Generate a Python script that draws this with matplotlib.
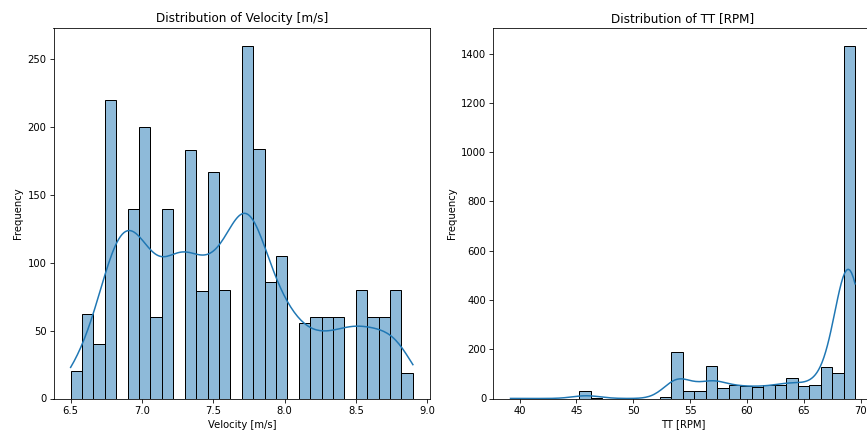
import matplotlib
matplotlib.use("Agg")
import matplotlib.pyplot as plt
import numpy as np
import pandas as pd
import seaborn as sns

# velocity: recorded values (0.1 m/s steps) and how often each occurs
vel_values = [6.5, 6.6, 6.7, 6.8, 6.9, 7.0, 7.1, 7.2, 7.3, 7.4, 7.5, 7.6, 7.7,
              7.8, 7.9, 8.0, 8.1, 8.2, 8.3, 8.4, 8.5, 8.6, 8.7, 8.8, 8.9]
vel_counts = [20, 62, 40, 220, 140, 200, 60, 140, 183, 79, 167, 80, 260,
              184, 86, 105, 56, 60, 60, 60, 80, 60, 60, 80, 19]

# TT histogram, 30 bins from 39.2 to 69.5
tt_lo, tt_hi = 39.2, 69.5
tt_counts = [1, 0, 0, 0, 0, 0, 30, 4, 0, 0,
             0, 0, 0, 6, 190, 32, 32, 130, 43, 55,
             51, 45, 53, 53, 83, 50, 54, 128, 104, 1432]
tt_edges = np.linspace(tt_lo, tt_hi, len(tt_counts) + 1)
tt_values = (tt_edges[:-1] + tt_edges[1:]) / 2


def kde_curve(values, counts, lo, hi, binw, gridsize=200):
    # gaussian kde (scott bandwidth), scaled to counts like histplot does
    n = counts.sum()
    mean = np.average(values, weights=counts)
    std = np.sqrt(np.average((values - mean) ** 2, weights=counts))
    bw = std * n ** (-1 / 5)
    grid = np.linspace(lo, hi, gridsize)
    z = (grid[None, :] - values[:, None]) / bw
    dens = (counts[:, None] * np.exp(-0.5 * z ** 2)).sum(0) / (n * bw * np.sqrt(2 * np.pi))
    return grid, dens * n * binw


def hist_kde(ax, values, counts, edges, name):
    values = np.asarray(values, dtype=float)
    counts = np.asarray(counts, dtype=float)
    df = pd.DataFrame({"v": values, "w": counts})
    sns.histplot(data=df, x="v", weights="w", bins=list(edges), alpha=0.5, ax=ax)
    gx, gy = kde_curve(values, counts, edges[0], edges[-1], edges[1] - edges[0])
    ax.plot(gx, gy, color="#1f77b4", lw=1.5)
    ax.set_title(f"Distribution of {name}")
    ax.set_xlabel(name)
    ax.set_ylabel("Frequency")


fig = plt.figure(figsize=(12, 432 / 72.25), dpi=72.25)
ax1 = fig.add_axes([53.5 / 867, 33.5 / 432, 376.5 / 867, 370.5 / 432])
ax2 = fig.add_axes([493.3 / 867, 33.5 / 432, 379 / 867, 370.5 / 432])

vel_edges = np.linspace(min(vel_values), max(vel_values), 31)
hist_kde(ax1, vel_values, vel_counts, vel_edges, "Velocity [m/s]")
hist_kde(ax2, tt_values, tt_counts, tt_edges, "TT [RPM]")

fig.savefig("out.png", dpi=72.25)
